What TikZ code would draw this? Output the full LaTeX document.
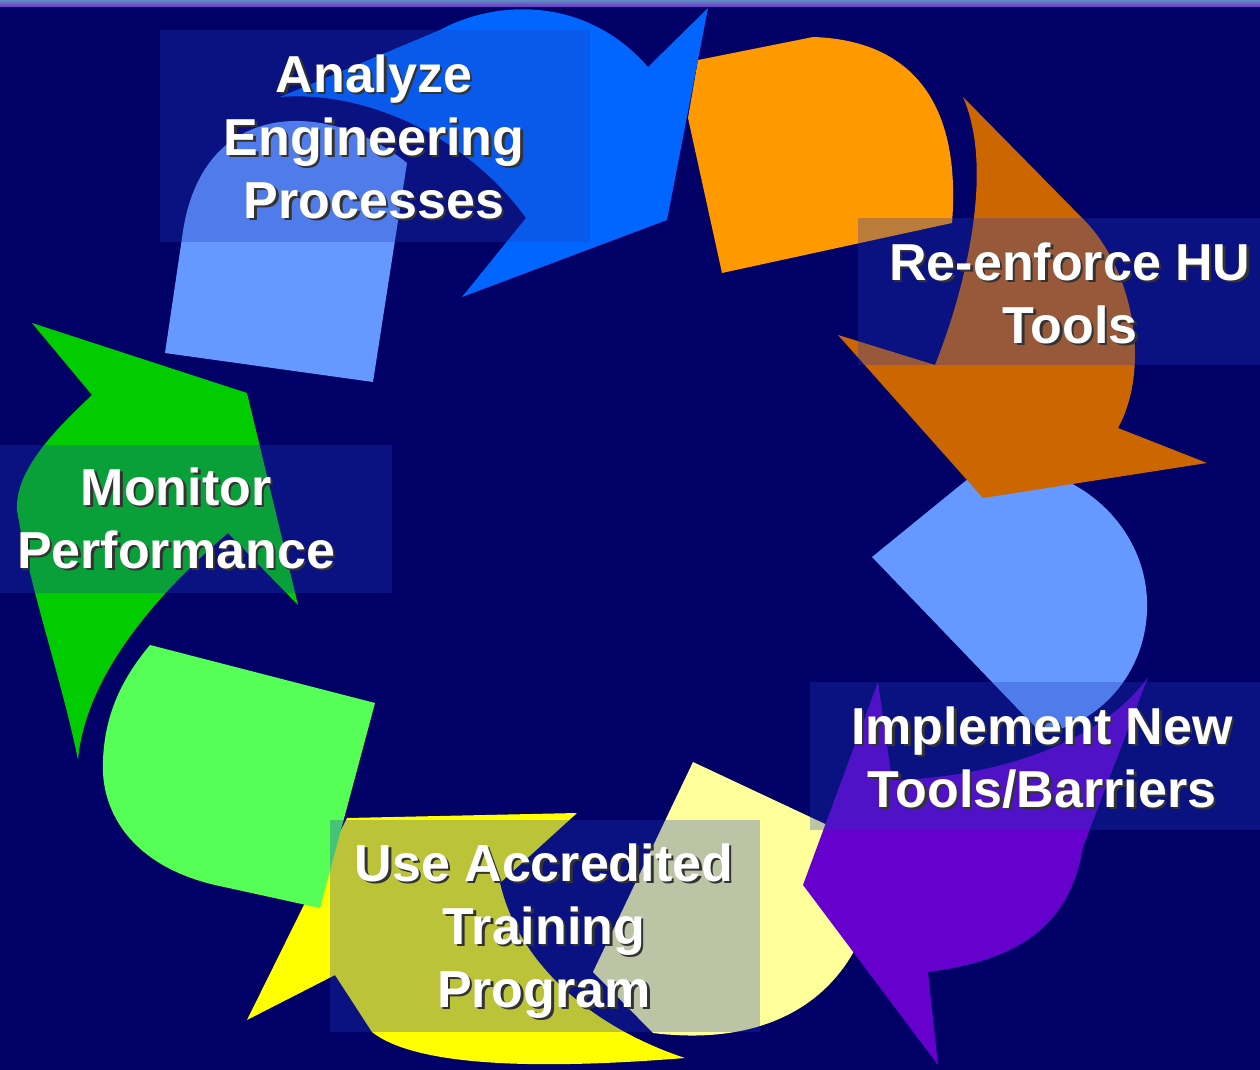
\documentclass[tikz,border=0pt]{standalone}
\usepackage{fontspec}
\setmainfont{Liberation Sans}
\definecolor{navy}{RGB}{0,0,102}
\definecolor{stripA}{RGB}{95,140,195}
\definecolor{stripB}{RGB}{112,48,200}
\definecolor{boxblue}{RGB}{30,60,190}
\definecolor{tailblue}{RGB}{102,153,255}
\definecolor{headblue}{RGB}{0,102,255}
\definecolor{tailorange}{RGB}{255,153,0}
\definecolor{headorange}{RGB}{204,102,0}
\definecolor{headpurple}{RGB}{102,0,204}
\definecolor{tailyellow}{RGB}{255,255,153}
\definecolor{headyellow}{RGB}{255,255,0}
\definecolor{tailgreen}{RGB}{85,255,85}
\definecolor{headgreen}{RGB}{0,204,0}
% white words with a dark drop shadow
\newcommand\dropsh[1]{\rlap{\kern2.5pt\raisebox{-2.5pt}{\textcolor{black!80}{#1}}}#1}
\begin{document}
\begin{tikzpicture}[x=1pt,y=-1pt,
  lbl/.style={text=white,font=\bfseries\fontsize{52}{63}\selectfont,align=center,inner sep=0pt,anchor=base},
  tagbox/.style={fill=boxblue,fill opacity=0.3}]
\useasboundingbox (0,0) rectangle (1260,1070);
\fill[navy] (0,0) rectangle (1260,1070);

% yellow head goes under the green tail
\fill[headyellow] (247,1020) -- (347,818) -- (577,813) -- (500,883)
  .. controls (520,970) and (600,1030) .. (685,1058)
  .. controls (560,1068) and (420,1070) .. (372,1032) -- (335,975) -- cycle;

% tails
\fill[tailblue] (165,353) -- (373,382) -- (407,163)
  .. controls (330,100) and (200,95) .. (182,238) -- cycle;
\fill[tailorange] (698,60) -- (813,37) .. controls (905,40) and (962,95) .. (952,223)
  -- (722,273) -- (688,118) -- cycle;
\fill[tailblue] (872,557) -- (985,465) .. controls (1080,460) and (1150,530) .. (1147,610)
  .. controls (1145,680) and (1090,730) .. (1040,732) -- cycle;
\fill[tailyellow] (693,762) -- (823,823) -- (880,850)
  .. controls (875,980) and (790,1050) .. (653,1033) -- (593,972) -- cycle;
\fill[tailgreen] (150,645) -- (375,703) -- (320,908) -- (215,885)
  .. controls (130,865) and (100,810) .. (103,760)
  .. controls (105,710) and (125,675) .. cycle;

% heads
\fill[headblue] (280,97) -- (440,30) .. controls (495,0) and (585,-5) .. (648,67)
  -- (708,8) -- (667,220) -- (462,297) -- (526,218)
  .. controls (470,140) and (370,90) .. cycle;
\fill[headorange] (963,97) -- (1087,223) .. controls (1135,275) and (1150,370) .. (1118,428)
  -- (1207,463) -- (983,498) -- (838,335) -- (935,365)
  .. controls (965,290) and (995,170) .. cycle;
\fill[headpurple] (1148,677) -- (1083,847) .. controls (1070,925) and (1020,960) .. (928,972)
  -- (938,1065) -- (803,885) -- (878,682) -- (892,780)
  .. controls (990,778) and (1100,745) .. cycle;
\fill[headgreen] (32,323) -- (247,393) -- (298,605) -- (228,533)
  .. controls (150,600) and (85,680) .. (78,760)
  .. controls (62,680) and (30,590) .. (17,510)
  .. controls (15,470) and (55,430) .. (92,395) -- cycle;

% top strip
\shade[top color=stripA,bottom color=stripB] (0,0) rectangle (1260,7);

% label boxes
\fill[tagbox] (160,30) rectangle (590,242);
\fill[tagbox] (858,218) rectangle (1260,365);
\fill[tagbox] (810,682) rectangle (1260,830);
\fill[tagbox] (330,820) rectangle (760,1032);
\fill[tagbox] (0,445) rectangle (392,593);

% labels (base = last line)
\node[lbl] (analyze) at (374,218) {\dropsh{Analyze}\\\dropsh{Engineering}\\\dropsh{Processes}};
\node[lbl] (enforce) at (1070,343) {\dropsh{Re-enforce HU}\\\dropsh{Tools}};
\node[lbl] (implement) at (1042,807) {\dropsh{Implement New}\\\dropsh{Tools/Barriers}};
\node[lbl] (training) at (544,1007) {\dropsh{Use Accredited}\\\dropsh{Training}\\\dropsh{Program}};
\node[lbl] (monitor) at (176,568) {\dropsh{Monitor}\\\dropsh{Performance}};
\end{tikzpicture}
\end{document}
